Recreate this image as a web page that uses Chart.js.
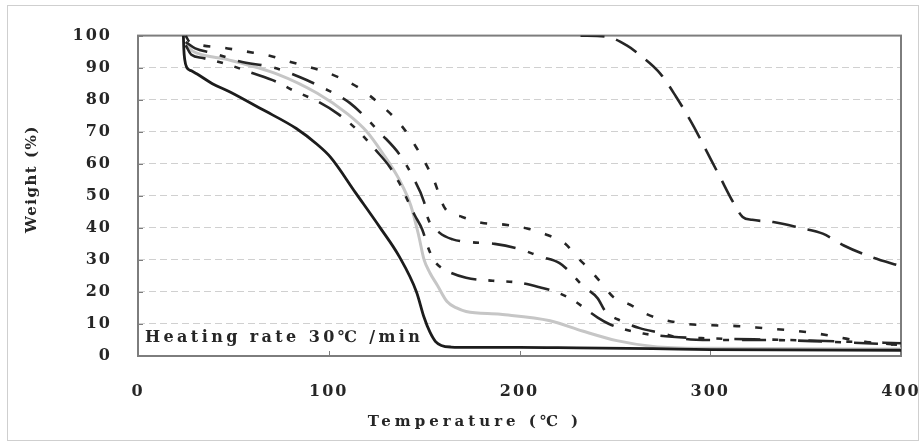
<!DOCTYPE html>
<html>
<head>
<meta charset="utf-8">
<script src="https://cdn.jsdelivr.net/npm/chart.js@4"></script>
<style>
  html, body { margin: 0; padding: 0; background: #fff; }
  #wrap { position: relative; width: 919px; height: 441px; }
  #wrap canvas { position: absolute; left: 0; top: 0; }
  #frame { position: absolute; left: 7px; top: 5px; width: 910px; height: 434px; border: 1px solid #cfcfcf; pointer-events: none; }
</style>
</head>
<body>
<div id="wrap">
  <canvas id="tgaChart" width="919" height="441"></canvas>
  <div id="frame"></div>
</div>
<script>
// TGA curves, heating rate 30 C/min

const xTicks = [0, 100, 200, 300, 400];
const yTicks = [0, 10, 20, 30, 40, 50, 60, 70, 80, 90, 100];
const xTitle = "Temperature (℃ )";
const yTitle = "Weight (%)";
const noteText = "Heating rate 30℃ /min";

// solid black
const solidT = [23.8, 24, 24.5, 25.6, 28, 31, 39, 48, 65, 83, 94, 101, 114, 127, 137, 146, 150, 153, 156, 159, 164, 175, 200, 220, 270, 300, 400];
const solidW = [100, 96, 92.5, 90, 89, 88, 85, 82.5, 77, 71, 66, 62, 51, 40, 31, 20, 12, 7.5, 4.5, 3.3, 2.8, 2.7, 2.7, 2.6, 2.3, 2, 1.8];

// light grey solid
const grayT = [25, 27, 31, 47, 73, 94, 110, 120, 128, 137, 143, 147, 150, 153, 157, 162, 167, 172, 190, 216, 233, 251, 270, 300, 400];
const grayW = [98, 96, 94.5, 92.5, 88, 82, 75.5, 70, 63.5, 55, 47, 38, 30, 26, 22, 17, 15, 13.9, 13, 11, 7.8, 4.8, 3, 2.4, 2.2];

// long - short - short
const ddT = [25, 28, 34, 47, 59, 73, 81, 94, 105, 115, 125, 132, 137, 141, 145, 149, 152, 155, 158, 162, 172, 186, 200, 211, 219, 228, 235, 241, 247, 255, 265, 280, 300, 340, 400];
const ddW = [97, 94, 93, 91, 88.5, 85.5, 83, 79.5, 75.5, 70.5, 64, 59, 54, 49, 44, 39.5, 34, 30, 28, 26.5, 24.4, 23.5, 22.9, 21.4, 20, 17.5, 14.5, 12, 10, 8.3, 7, 6, 5.5, 5, 4];

// long - short
const lsT = [25, 30, 39, 53, 71, 85, 97, 111, 128, 137, 144, 150, 152, 158, 165, 175, 187, 200, 211, 221, 226, 233, 241, 245, 254, 263, 274, 286, 300, 330, 360, 400];
const lsW = [98, 96, 94.6, 92, 90, 87, 83.7, 79, 69, 63, 56, 48, 43, 38.5, 36.4, 35.5, 35, 33.4, 31, 29, 26.5, 22, 18, 14, 10.8, 8.7, 7.2, 5.4, 5, 5, 4.5, 3.5];

// short dashes
const dtT = [25, 27, 33, 47, 57, 69, 81, 91, 99, 115, 128, 138, 146, 155, 161, 170, 180, 192, 204, 215, 224, 230, 237, 244, 249, 258, 267, 275, 288, 301, 316, 328, 342, 354, 366, 380, 400];
const dtW = [100, 98, 97, 96, 95, 93.7, 91.6, 90, 88.5, 84, 78, 72, 65, 55, 46, 43.4, 41.6, 41, 39.8, 37.7, 35, 31, 26.8, 22, 18.5, 16, 13, 11.4, 10, 9.6, 9.3, 8.7, 8, 7.2, 6, 4.5, 3.5];

// long dashes
const ldT = [232, 246, 256, 263, 274, 282, 291, 298, 305, 312, 317, 322, 333, 347, 359, 370, 384, 400];
const ldW = [100, 99.6, 97, 94, 88, 81, 72, 64, 56, 48, 43.4, 42.5, 41.8, 40, 38.2, 34.5, 31, 28];

const labelFont = { family: "'DejaVu Serif', serif", size: 16, weight: "bold" };
const inkColor = "#262626";
const lineColor = "#262626";

function series(ts, ws, color, width, dash) {
  return {
    data: ts.map((t, i) => ({ x: t, y: ws[i] })),
    borderColor: color,
    borderWidth: width,
    borderDash: dash,
    borderCapStyle: "butt",
    fill: false,
    pointRadius: 0,
    cubicInterpolationMode: "monotone"
  };
}

const spacingPlugin = {
  id: "spacing",
  beforeDraw(chart) { chart.ctx.letterSpacing = "2px"; },
  afterDraw(chart) { chart.ctx.letterSpacing = "0px"; }
};

const framePlugin = {
  id: "frame",
  beforeDatasetsDraw(chart) {
    const { ctx, chartArea, scales } = chart;
    ctx.save();
    ctx.setLineDash([]);
    ctx.strokeStyle = "#7d7d7d";
    ctx.lineWidth = 2;
    ctx.strokeRect(chartArea.left, chartArea.top, chartArea.right - chartArea.left, chartArea.bottom - chartArea.top);
    ctx.lineWidth = 1;
    ctx.beginPath();
    scales.x.ticks.forEach(t => {
      const px = Math.round(scales.x.getPixelForValue(t.value)) + 0.5;
      ctx.moveTo(px, chartArea.bottom);
      ctx.lineTo(px, chartArea.bottom - 5);
    });
    scales.y.ticks.forEach(t => {
      const py = Math.round(scales.y.getPixelForValue(t.value)) + 0.5;
      ctx.moveTo(chartArea.left, py);
      ctx.lineTo(chartArea.left + 5, py);
    });
    ctx.stroke();
    ctx.restore();
  }
};

const textPlugin = {
  id: "texts",
  afterDraw(chart) {
    const { ctx, chartArea } = chart;
    ctx.save();
    ctx.fillStyle = inkColor;
    ctx.textBaseline = "alphabetic";

    ctx.font = "bold 16px 'DejaVu Serif', serif";
    ctx.letterSpacing = "3.4px";
    ctx.textAlign = "left";
    ctx.fillText(noteText, chartArea.left + 7, chartArea.bottom - 14);

    ctx.font = "bold 15px 'DejaVu Serif', serif";
    ctx.letterSpacing = "4px";
    ctx.textAlign = "center";
    ctx.fillText(xTitle, 475, 426);

    ctx.translate(32, 179);
    ctx.rotate(-Math.PI / 2);
    ctx.letterSpacing = "1.5px";
    ctx.textBaseline = "middle";
    ctx.fillText(yTitle, 0, 0);
    ctx.restore();
  }
};

const ctx = document.getElementById("tgaChart").getContext("2d");
window.tgaChart = new Chart(ctx, {
  type: "line",
  data: {
    datasets: [
      series(solidT, solidW, "#1c1c1c", 2.8, []),
      series(ldT, ldW, lineColor, 2.6, [24, 12]),
      series(dtT, dtW, lineColor, 2.6, [7, 15]),
      series(lsT, lsW, lineColor, 2.6, [24, 13, 6, 13]),
      series(ddT, ddW, lineColor, 2.6, [26, 12, 6, 12, 6, 12]),
      series(grayT, grayW, "#c6c6c6", 3, [])
    ]
  },
  options: {
    responsive: false,
    animation: false,
    layout: { padding: { top: 24, right: 18, left: 0, bottom: 0 } },
    plugins: {
      legend: { display: false },
      tooltip: { enabled: false }
    },
    scales: {
      x: {
        type: "linear",
        min: 0,
        max: 400,
        afterBuildTicks: scale => { scale.ticks = xTicks.map(v => ({ value: v })); },
        afterFit: scale => { scale.height = 85; scale.paddingLeft = 0; scale.paddingRight = 0; },
        grid: { display: false, drawTicks: false },
        border: { display: false },
        ticks: { padding: 26, font: labelFont, color: inkColor, maxRotation: 0, autoSkip: false }
      },
      y: {
        type: "linear",
        min: 0,
        max: 100,
        afterBuildTicks: scale => { scale.ticks = yTicks.map(v => ({ value: v })); },
        afterFit: scale => { scale.width = 138; },
        grid: {
          drawTicks: false,
          color: c => (c.tick && (c.tick.value === 0 || c.tick.value === 100)) ? "rgba(0,0,0,0)" : "#d0d0d0",
          lineWidth: 1
        },
        border: { display: false, dash: [7, 4] },
        ticks: { padding: 26, font: labelFont, color: inkColor, autoSkip: false }
      }
    }
  },
  plugins: [spacingPlugin, framePlugin, textPlugin]
});
</script>
</body>
</html>
